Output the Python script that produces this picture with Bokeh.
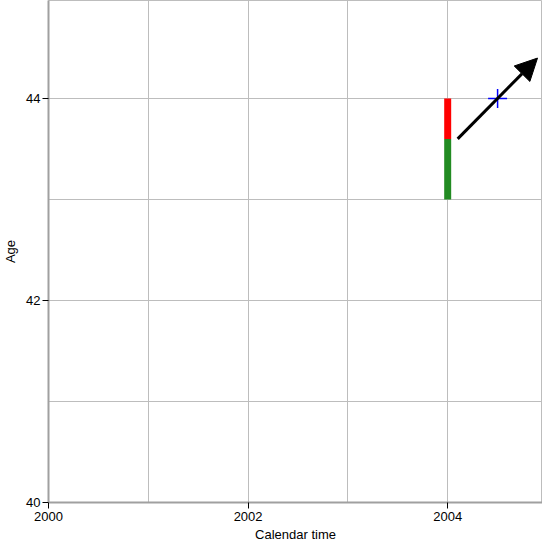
from bokeh.plotting import figure
from bokeh.models import Range1d, FixedTicker, Arrow, NormalHead, ColumnDataSource
from bokeh.embed import file_html
from bokeh.resources import INLINE

# data
bar_x = [2004, 2004]
bar_bottom = [43.0, 43.6]
bar_top = [43.6, 44.0]
bar_colors = ["#228B22", "#FF0000"]
arrow_start = (2004.1, 43.6)
arrow_end = (2004.9, 44.4)
point_x = [2004.5]
point_y = [44.0]
x_tick_labels = [2000, 2002, 2004]
y_tick_labels = [40, 42, 44]
grid_x = [2000, 2001, 2002, 2003, 2004, 2005]
grid_y = [40, 41, 42, 43, 44, 45]

FONT = "Liberation Sans"

p = figure(width=542, height=544, output_backend="svg", toolbar_location=None,
           x_range=Range1d(2000, 2004.95), y_range=Range1d(40, 44.97),
           min_border_left=40, min_border_right=0, min_border_top=0, min_border_bottom=36)

p.xaxis.ticker = FixedTicker(ticks=x_tick_labels)
p.yaxis.ticker = FixedTicker(ticks=y_tick_labels)
p.xgrid.ticker = FixedTicker(ticks=grid_x)
p.ygrid.ticker = FixedTicker(ticks=grid_y)
for g in (p.xgrid, p.ygrid):
    g.grid_line_color = "#bdbdbd"
    g.grid_line_width = 1

for ax in (p.xaxis, p.yaxis):
    ax.axis_line_color = "#a0a0a0"
    ax.axis_line_width = 2
    ax.major_tick_line_color = "#000000"
    ax.major_tick_out = 6
    ax.major_tick_in = 0
    ax.minor_tick_line_color = None
    ax.major_label_text_font = FONT
    ax.major_label_text_font_size = "13px"
    ax.major_label_text_color = "#000000"
    ax.axis_label_text_font = FONT
    ax.axis_label_text_font_size = "13px"
    ax.axis_label_text_font_style = "normal"
    ax.axis_label_text_color = "#000000"

p.xaxis.axis_label = "Calendar time"
p.yaxis.axis_label = "Age"
p.xaxis.major_label_standoff = 3
p.xaxis.axis_label_standoff = 3
p.yaxis.major_label_standoff = 2
p.yaxis.axis_label_standoff = 5
p.outline_line_color = "#bdbdbd"

src = ColumnDataSource(dict(x=bar_x, bottom=bar_bottom, top=bar_top, color=bar_colors))
p.vbar(x="x", bottom="bottom", top="top", width=0.07, fill_color="color", line_color=None, source=src)

p.add_layout(Arrow(end=NormalHead(size=22, fill_color="black", line_color="black"),
                   x_start=arrow_start[0], y_start=arrow_start[1],
                   x_end=arrow_end[0], y_end=arrow_end[1],
                   line_width=3, line_color="black"))

p.scatter(point_x, point_y, marker="cross", size=19, line_color="blue", line_width=1.5)

open("out.html", "w").write(file_html(p, INLINE))
